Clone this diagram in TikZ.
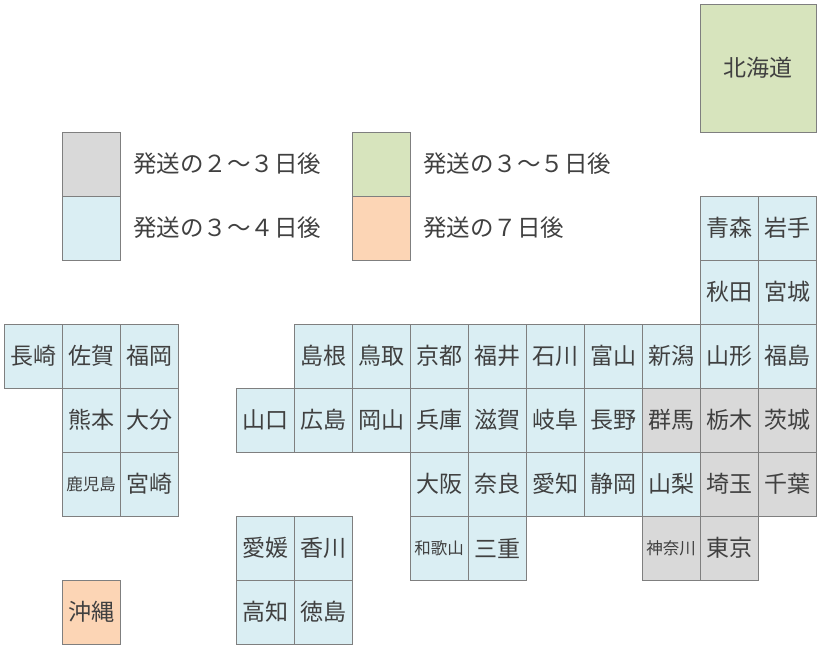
\documentclass[tikz,border=0pt]{standalone}
\usepackage{fontspec}
\newfontfamily\jp{Noto Sans CJK JP}
\definecolor{gr}{HTML}{D9D9D9}
\definecolor{bl}{HTML}{DAEEF3}
\definecolor{gn}{HTML}{D7E4BD}
\definecolor{og}{HTML}{FCD5B5}
\definecolor{ln}{HTML}{7F7F7F}
\definecolor{tx}{HTML}{404040}
\tikzset{
  pref/.style={draw=ln, line width=0.8pt, minimum width=58pt, minimum height=64pt, inner sep=0pt, text=tx, font=\jp\fontsize{23}{23}\selectfont},
  small/.style={font=\jp\fontsize{16.5}{16.5}\selectfont},
  legtext/.style={anchor=west, inner sep=0pt, text=tx, font=\jp\fontsize{23.5}{23.5}\selectfont}
}
\begin{document}
\begin{tikzpicture}[x=1pt,y=-1pt]
\useasboundingbox (0,0) rectangle (821,649);
% Hokkaido
\node (hokkaido) [pref, fill=gn, minimum width=116pt, minimum height=128pt] at (758,68) {北海道};
% legend
\node (lg1) [pref, fill=gr] at (91,164) {};
\node (lg2) [pref, fill=bl] at (91,228) {};
\node (lg3) [pref, fill=gn] at (381,164) {};
\node (lg4) [pref, fill=og] at (381,228) {};
\node [legtext] at (133,164) {発送の２～３日後};
\node [legtext] at (133,228) {発送の３～４日後};
\node [legtext] at (423,164) {発送の３～５日後};
\node [legtext] at (423,228) {発送の７日後};
% prefectures: column/row/name/colour
\foreach \c/\r/\n/\f in {12/0/青森/bl,13/0/岩手/bl,12/1/秋田/bl,13/1/宮城/bl,
  0/2/長崎/bl,1/2/佐賀/bl,2/2/福岡/bl,5/2/島根/bl,6/2/鳥取/bl,7/2/京都/bl,8/2/福井/bl,9/2/石川/bl,10/2/富山/bl,11/2/新潟/bl,12/2/山形/bl,13/2/福島/bl,
  1/3/熊本/bl,2/3/大分/bl,4/3/山口/bl,5/3/広島/bl,6/3/岡山/bl,7/3/兵庫/bl,8/3/滋賀/bl,9/3/岐阜/bl,10/3/長野/bl,11/3/群馬/gr,12/3/栃木/gr,13/3/茨城/gr,
  2/4/宮崎/bl,7/4/大阪/bl,8/4/奈良/bl,9/4/愛知/bl,10/4/静岡/bl,11/4/山梨/bl,12/4/埼玉/gr,13/4/千葉/gr,
  4/5/愛媛/bl,5/5/香川/bl,8/5/三重/bl,12/5/東京/gr,
  1/6/沖縄/og,4/6/高知/bl,5/6/徳島/bl}
  \node (p-\c-\r) [pref, fill=\f] at ({33+58*\c},{228+64*\r}) {\n};
\foreach \c/\r/\n/\f in {1/4/鹿児島/bl,7/5/和歌山/bl,11/5/神奈川/gr}
  \node (p-\c-\r) [pref, small, fill=\f] at ({33+58*\c},{228+64*\r}) {\n};
\end{tikzpicture}
\end{document}
